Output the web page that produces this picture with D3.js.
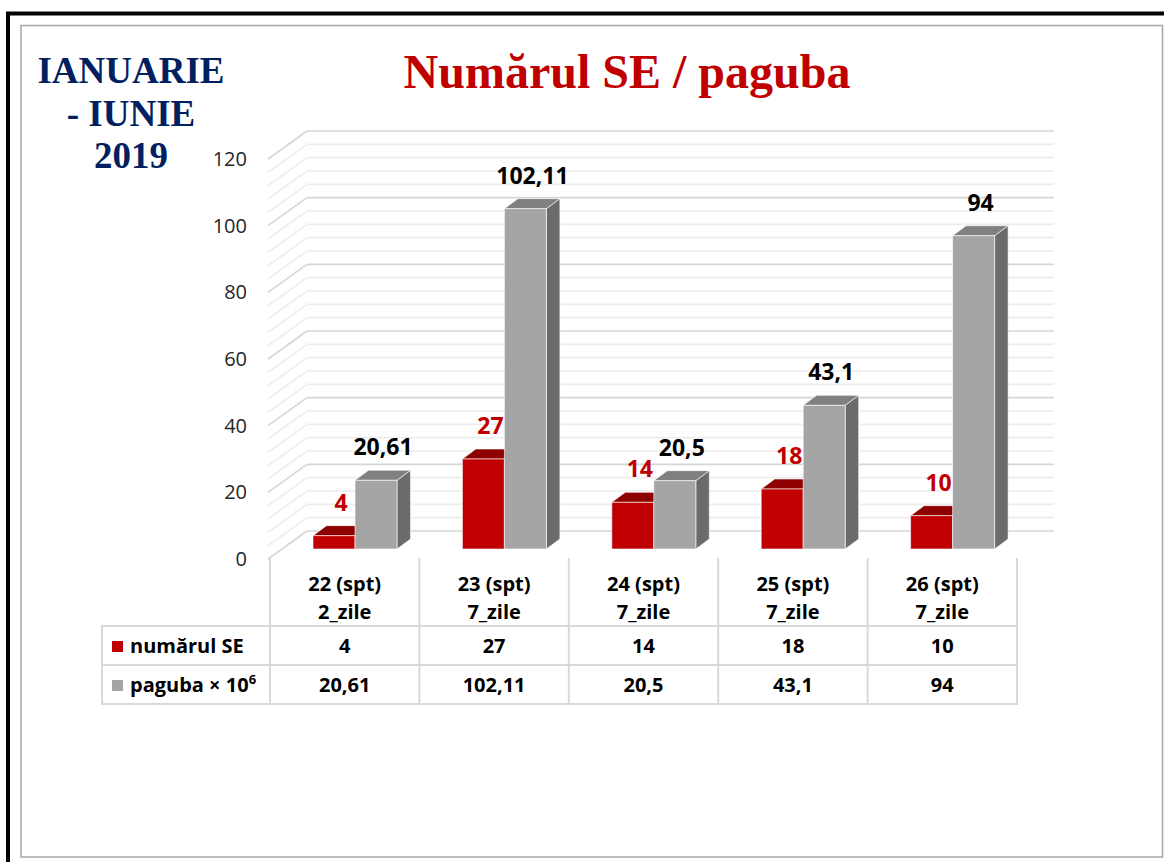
<!DOCTYPE html>
<html>
<head>
<meta charset="utf-8">
<script src="https://cdn.jsdelivr.net/npm/d3@7"></script>
<style>
body{margin:0;background:#fff;}
svg text{font-family:"Open Sans",sans-serif;}
</style>
</head>
<body>
<div id="chart"></div>
<script>
// date
var catWeeks=["22 (spt)","23 (spt)","24 (spt)","25 (spt)","26 (spt)"];
var catDays=["2_zile","7_zile","7_zile","7_zile","7_zile"];
var seriesNames=["numărul SE","paguba × 10"];
var numarSE=[4,27,14,18,10];
var paguba=[20.61,102.11,20.5,43.1,94];
var yTicks=[0,20,40,60,80,100,120];
var periodLines=["IANUARIE","- IUNIE","2019"];
var titleText="Numărul SE / paguba";

var width=1164,height=862;
var red="#C00000",redTop="#8E0000",redSide="#900000";
var grey="#A5A5A5",greyTop="#808080",greySide="#6B6B6B";
var navy="#002060";

var wallDx=37,wallDy=-28;     // adancime perete
var barDx=16.5,barDy=-10;     // fata barelor fata de planul din fata
var depDx=13.5,depDy=-10;     // adancimea unei bare

var fmt=d3.formatLocale({decimal:",",thousands:".",grouping:[3],currency:["",""]}).format("");
var seriesVals=[numarSE,paguba];
var seriesCol=[[red,redTop,redSide],[grey,greyTop,greySide]];

var svg=d3.select("#chart").append("svg")
	.attr("width",width).attr("height",height);

// rame
svg.append("rect").attr("x",8).attr("y",13.5).attr("width",width).attr("height",height)
	.attr("fill","none").attr("stroke","#000").attr("stroke-width",4);
svg.append("rect").attr("x",21).attr("y",25.5).attr("width",1141.5).attr("height",831.5)
	.attr("fill","#fff").attr("stroke","#A6A6A6").attr("stroke-width",1.5);

var y=d3.scaleLinear().domain([0,120]).range([559,159]);
var x0=d3.scaleBand().domain(d3.range(catWeeks.length)).range([270,1017]);
var x1=d3.scaleBand().domain([0,1]).range([26.5,110.5]);

// grila: perete spate + perete stanga
var minor=d3.range(0,121,4);
var grid=svg.append("g");
grid.selectAll(".gb").data(minor).enter().append("line")
	.attr("x1",x0.range()[0]+wallDx).attr("x2",x0.range()[1]+wallDx)
	.attr("y1",function(d){return y(d)+wallDy;}).attr("y2",function(d){return y(d)+wallDy;})
	.attr("stroke",function(d){return d%20==0?"#D6D6D6":"#EDEDED";})
	.attr("stroke-width",1.6);
grid.selectAll(".gl").data(minor).enter().append("line")
	.attr("x1",x0.range()[0]-2).attr("x2",x0.range()[0]+wallDx)
	.attr("y1",function(d){return y(d);}).attr("y2",function(d){return y(d)+wallDy;})
	.attr("stroke",function(d){return d%20==0?"#D6D6D6":"#EDEDED";})
	.attr("stroke-width",1.6);

// axa y
svg.append("g").selectAll("text").data(yTicks).enter().append("text")
	.attr("x",247).attr("y",function(d){return y(d)+7;})
	.attr("text-anchor","end").attr("font-size","20px").attr("fill","#262626")
	.text(function(d){return d;});

// bare 3D
var bars=[];
catWeeks.forEach(function(c,i){
	seriesVals.forEach(function(vals,s){bars.push({i:i,s:s,v:vals[i]});});
});
var bg=svg.append("g").selectAll("g").data(bars).enter().append("g");
function fx(d){return x0(d.i)+x1(d.s)+barDx;}
function fyTop(d){return y(d.v)+barDy;}
var bw=x1.bandwidth();
var fyBot=y(0)+barDy;
bg.append("path")
	.attr("d",function(d){
		var x=fx(d),t=fyTop(d);
		return "M"+(x+bw)+","+t+"L"+(x+bw+depDx)+","+(t+depDy)+"L"+(x+bw+depDx)+","+(fyBot+depDy)+"L"+(x+bw)+","+fyBot+"Z";
	})
	.attr("fill",function(d){return seriesCol[d.s][2];})
	.attr("stroke","rgba(255,255,255,0.6)").attr("stroke-width",1);
bg.append("path")
	.attr("d",function(d){
		var x=fx(d),t=fyTop(d);
		return "M"+x+","+t+"L"+(x+depDx)+","+(t+depDy)+"L"+(x+bw+depDx)+","+(t+depDy)+"L"+(x+bw)+","+t+"Z";
	})
	.attr("fill",function(d){return seriesCol[d.s][1];})
	.attr("stroke","rgba(255,255,255,0.6)").attr("stroke-width",1);
bg.append("rect")
	.attr("x",fx).attr("y",fyTop)
	.attr("width",bw).attr("height",function(d){return fyBot-fyTop(d);})
	.attr("fill",function(d){return seriesCol[d.s][0];})
	.attr("stroke","rgba(255,255,255,0.6)").attr("stroke-width",1);

// etichete valori
svg.append("g").selectAll("text").data(bars).enter().append("text")
	.attr("x",function(d){return fx(d)+bw/2+7;})
	.attr("y",function(d){return fyTop(d)+depDy-15;})
	.attr("text-anchor","middle").attr("font-size","23px").attr("font-weight","bold")
	.attr("fill",function(d){return d.s==0?red:"#000";})
	.text(function(d){return fmt(d.v);});

// tabel de date
var tbl=svg.append("g");
var rowY=[626,665,704];
var lineCol="#D9D9D9";
x0.domain().concat([catWeeks.length]).forEach(function(k){
	var xx=k<catWeeks.length?x0(k):x0.range()[1];
	tbl.append("line").attr("x1",xx).attr("x2",xx).attr("y1",558).attr("y2",rowY[2])
		.attr("stroke",lineCol).attr("stroke-width",2);
});
tbl.append("line").attr("x1",102).attr("x2",102).attr("y1",rowY[0]).attr("y2",rowY[2])
	.attr("stroke",lineCol).attr("stroke-width",2);
rowY.forEach(function(r){
	tbl.append("line").attr("x1",101).attr("x2",x0.range()[1]+1).attr("y1",r).attr("y2",r)
		.attr("stroke",lineCol).attr("stroke-width",2);
});
tbl.selectAll(".cw").data(catWeeks).enter().append("text")
	.attr("x",function(d,i){return x0(i)+x0.bandwidth()/2;}).attr("y",591)
	.attr("text-anchor","middle").attr("font-size","20px").attr("font-weight","bold")
	.text(function(d){return d;});
tbl.selectAll(".cd").data(catDays).enter().append("text")
	.attr("x",function(d,i){return x0(i)+x0.bandwidth()/2;}).attr("y",619)
	.attr("text-anchor","middle").attr("font-size","20px").attr("font-weight","bold")
	.text(function(d){return d;});
seriesVals.forEach(function(vals,s){
	var by=rowY[s]+27;
	tbl.selectAll(".v"+s).data(vals).enter().append("text")
		.attr("x",function(d,i){return x0(i)+x0.bandwidth()/2;}).attr("y",by)
		.attr("text-anchor","middle").attr("font-size","20px").attr("font-weight","bold")
		.text(function(d){return fmt(d);});
	tbl.append("rect").attr("x",112).attr("y",by-12).attr("width",11).attr("height",11)
		.attr("fill",seriesCol[s][0]);
	var lt=tbl.append("text").attr("x",130).attr("y",by)
		.attr("font-size","20px").attr("font-weight","bold").text(seriesNames[s]);
	if(s==1){
		lt.append("tspan").attr("dy",-8).attr("font-size","13px").text("6");
	}
});

// titluri
svg.append("text").attr("x",627).attr("y",88).attr("text-anchor","middle")
	.style("font-family","'Liberation Serif','Times New Roman',serif")
	.attr("font-size","48px").attr("font-weight","bold").attr("fill",red)
	.text(titleText);
svg.append("g").selectAll("text").data(periodLines).enter().append("text")
	.attr("x",131).attr("y",function(d,i){return 83+i*42.5;})
	.attr("text-anchor","middle")
	.style("font-family","'Liberation Serif','Times New Roman',serif")
	.attr("font-size","37px").attr("font-weight","bold").attr("fill",navy)
	.text(function(d){return d;});
</script>
</body>
</html>
